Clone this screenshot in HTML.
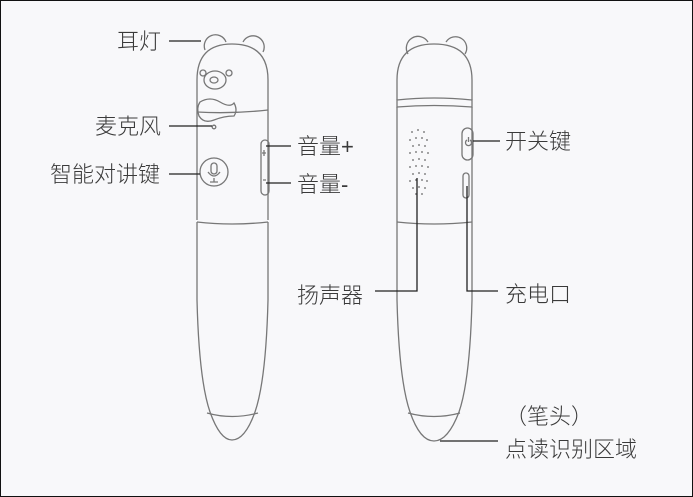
<!DOCTYPE html>
<html><head><meta charset="utf-8"><style>
html,body{margin:0;padding:0;}
body{width:693px;height:497px;overflow:hidden;background:#f8f8fa;}
svg{display:block;}
text{font-family:"Liberation Sans","Noto Sans CJK SC",sans-serif;font-size:22px;fill:#3a3a3a;font-weight:300;}
</style></head><body>
<svg width="693" height="497" viewBox="0 0 693 497">
<rect x="0.5" y="0.5" width="692" height="496" fill="#f8f8fa" stroke="#111" stroke-width="1"/>
<g fill="none" stroke="#777" stroke-width="1.3">
<!-- left pen -->
<path d="M205,50 A11,11 0 0 1 226,42"/>
<path d="M243,42 A11,11 0 0 1 263,52"/>
<path d="M197,220 L197,80 Q197,44 232,44 Q268,44 268,80 L268,220"/>
<path d="M197,222 L197,300 Q199,380 210,412 Q220,440 232,440 Q245,440 255,412 Q266,380 268,300 L268,222"/>
<path d="M197,222 Q232,226 268,222"/>
<path d="M207,413 Q232,420 258,413"/>
<path d="M197,112 Q232,114 268,110"/>
<path d="M200,102 Q210,96 220,102 Q230,108 234,103 Q238,110 234,116 Q224,116 214,120 Q204,124 199,116 Q196,108 200,102 Z"/>
<ellipse cx="215" cy="80" rx="11" ry="9"/>
<ellipse cx="214" cy="80" rx="4" ry="3"/>
<circle cx="203" cy="73" r="3"/>
<circle cx="229" cy="73" r="3"/>
<circle cx="214" cy="127" r="1.8"/>
<circle cx="214" cy="172" r="14"/>
<rect x="211" y="163" width="6" height="11" rx="3"/>
<path d="M208,172 Q214,180 220,172 M214,178 L214,182 M210,182 L218,182"/>
<rect x="261" y="140" width="8" height="55" rx="4"/>
<path d="M264,150 L264,156 M262,153 L266,153 M263,180 L266,180"/>
<!-- right pen -->
<path d="M408,54 A11,11 0 0 1 428,42"/>
<path d="M446,42 A11,11 0 0 1 465,54"/>
<path d="M397,100 L397,80 Q397,44 434,44 Q472,44 472,80 L472,100"/>
<path d="M397,100 Q434,96 472,100 L472,107 Q434,104 397,107 Z"/>
<path d="M397,107 L397,300 Q399,380 410,412 Q420,441 434,441 Q448,441 459,412 Q470,380 472,300 L472,107"/>
<path d="M397,222 Q434,226 472,222"/>
<path d="M408,413 Q434,420 460,413"/>
<rect x="462" y="128" width="11" height="32" rx="5.5"/>
<path d="M467,140 A3,3 0 1 0 470,140 M468.5,137 L468.5,142"/>
<rect x="463" y="173" width="6" height="25" rx="3"/>
</g>
<g fill="#888">
<circle cx="412" cy="132" r="1"/><circle cx="418" cy="130" r="1"/><circle cx="424" cy="132" r="1"/>
<circle cx="410" cy="140" r="1"/><circle cx="416" cy="138" r="1"/><circle cx="422" cy="138" r="1"/><circle cx="427" cy="140" r="1"/>
<circle cx="413" cy="146" r="1"/><circle cx="419" cy="145" r="1"/><circle cx="425" cy="146" r="1"/>
<circle cx="410" cy="153" r="1"/><circle cx="416" cy="152" r="1"/><circle cx="422" cy="152" r="1"/><circle cx="428" cy="153" r="1"/>
<circle cx="413" cy="160" r="1"/><circle cx="419" cy="159" r="1"/><circle cx="425" cy="160" r="1"/>
<circle cx="410" cy="167" r="1"/><circle cx="416" cy="166" r="1"/><circle cx="422" cy="166" r="1"/><circle cx="428" cy="167" r="1"/>
<circle cx="413" cy="174" r="1"/><circle cx="419" cy="173" r="1"/><circle cx="425" cy="174" r="1"/>
<circle cx="410" cy="181" r="1"/><circle cx="416" cy="180" r="1"/><circle cx="422" cy="180" r="1"/><circle cx="427" cy="181" r="1"/>
<circle cx="413" cy="188" r="1"/><circle cx="419" cy="187" r="1"/><circle cx="425" cy="188" r="1"/>
<circle cx="416" cy="194" r="1"/><circle cx="422" cy="194" r="1"/>
</g>
<g stroke="#222" stroke-width="1.3" fill="none">
<path d="M169,41 L201,41"/>
<path d="M169,126 L212,126"/>
<path d="M169,174 L200,174"/>
<path d="M266,146 L291,146"/>
<path d="M266,183 L291,183"/>
<path d="M473,141 L500,141"/>
<path d="M417,178 L417,291 L375,291"/>
<path d="M467,186 L467,291 L498,291"/>
<path d="M440,441 L498,441"/>
</g>
<text x="117" y="49">耳灯</text>
<text x="95" y="134">麦克风</text>
<text x="50" y="182">智能对讲键</text>
<text x="297" y="154">音量+</text>
<text x="297" y="192">音量-</text>
<text x="505" y="149">开关键</text>
<text x="297" y="303">扬声器</text>
<text x="505" y="302">充电口</text>
<text x="505" y="424">（笔头）</text>
<text x="505" y="457">点读识别区域</text>
</svg>
</body></html>
